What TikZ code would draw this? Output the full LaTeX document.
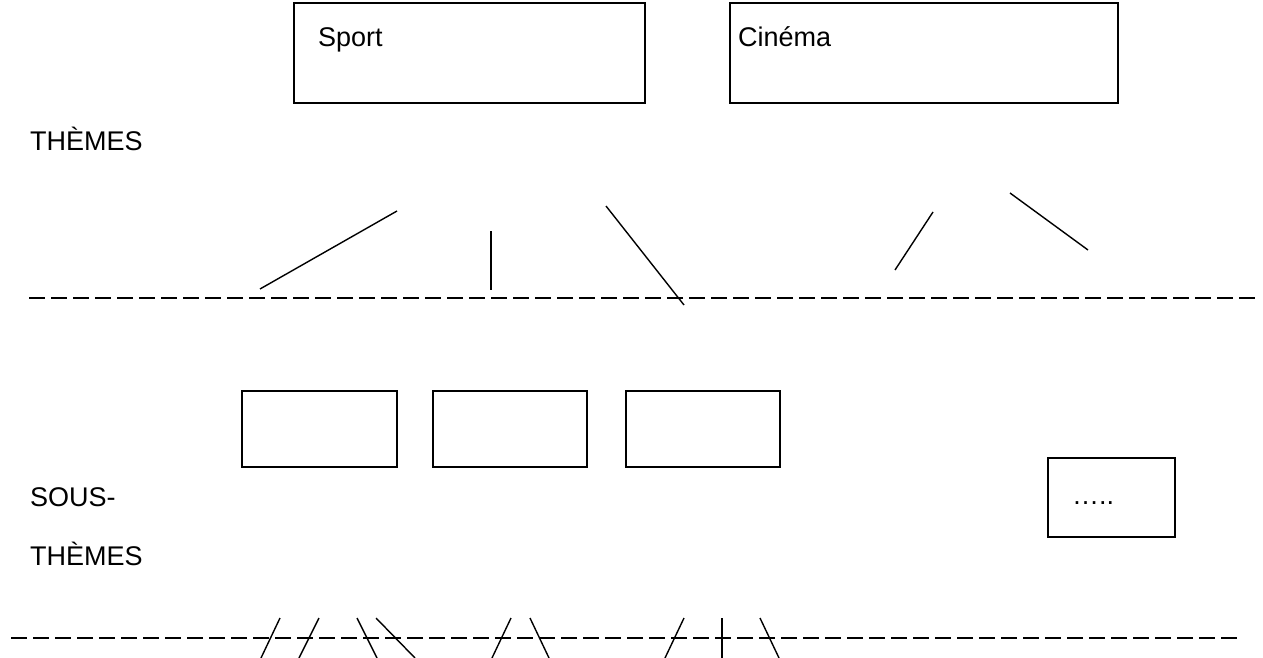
\documentclass[tikz,border=0pt]{standalone}
\usepackage{fontspec}
\setmainfont{Liberation Sans}
\begin{document}
\begin{tikzpicture}[x=1pt,y=-1pt,
  box/.style={draw,line width=1.3pt},
  lbl/.style={anchor=base west,inner sep=0pt,font=\fontsize{27}{32}\selectfont},
  dline/.style={line width=2pt,dash pattern=on 16pt off 6pt},
  tick/.style={line width=1.4pt}]
\useasboundingbox (0,0) rectangle (1263,658);
% top boxes
\draw[box] (294,3) rectangle (645,103);
\draw[box] (730,3) rectangle (1118,103);
\node[lbl] (sport) at (318,47) {Sport};
\node[lbl] (cinema) at (738,47) {Cinéma};
\node[lbl] (themes1) at (30,150) {THÈMES};
% free lines
\coordinate (a1) at (397,211); \coordinate (a2) at (260,289);
\coordinate (b1) at (491,231); \coordinate (b2) at (491,290);
\coordinate (c1) at (606,206); \coordinate (c2) at (684,305);
\coordinate (d1) at (933,212); \coordinate (d2) at (895,270);
\coordinate (e1) at (1010,193); \coordinate (e2) at (1088,250);
\draw[tick] (a1) -- (a2);
\draw[tick] (b1) -- (b2);
\draw[tick] (c1) -- (c2);
\draw[tick] (d1) -- (d2);
\draw[tick] (e1) -- (e2);
% middle dashed line
\coordinate (m1) at (29,298); \coordinate (m2) at (1255,298);
\draw[dline] (m1) -- (m2);
% sub-theme boxes
\draw[box] (242,391) rectangle (397,467);
\draw[box] (433,391) rectangle (587,467);
\draw[box] (626,391) rectangle (780,467);
\draw[box] (1048,458) rectangle (1175,537);
\node[lbl] (dots) at (1072,504) {…..};
\node[lbl] (sous) at (30,506) {SOUS-};
\node[lbl] (themes2) at (30,565) {THÈMES};
% bottom dashed line
\coordinate (n1) at (11,638); \coordinate (n2) at (1237,638);
\draw[dline] (n1) -- (n2);
% bottom ticks
\foreach \xa/\xb [count=\i] in {280/261,319/299,357/377,376/415,511/492,530/549,684/665,722/722,760/779}{
  \coordinate (t\i a) at (\xa,618);
  \coordinate (t\i b) at (\xb,658);
  \draw[tick] (t\i a) -- (t\i b);
}
\end{tikzpicture}
\end{document}
